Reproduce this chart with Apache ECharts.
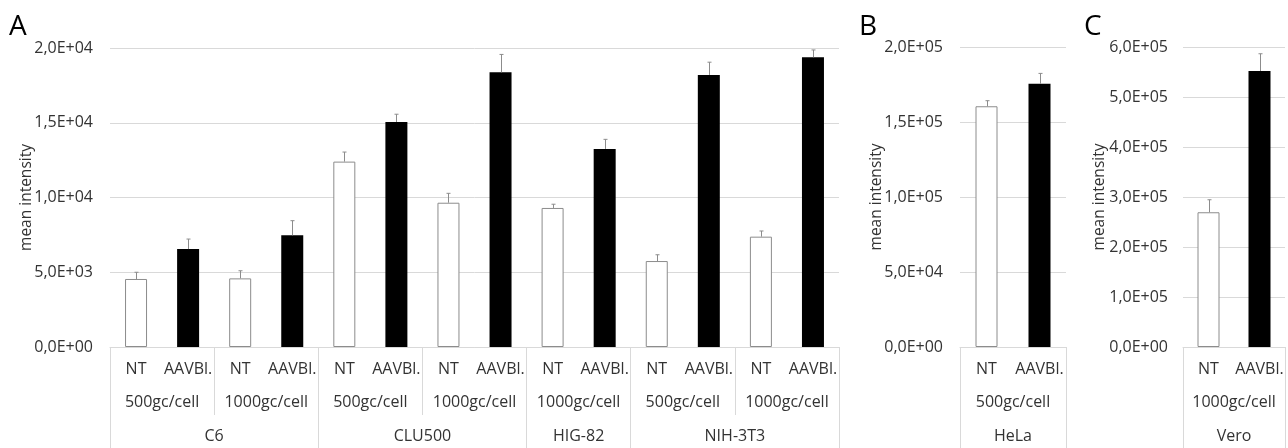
<!DOCTYPE html>
<html>
<head>
<meta charset="utf-8">
<script src="https://cdn.jsdelivr.net/npm/echarts@6/dist/echarts.min.js"></script>
<style>
  html, body { margin: 0; padding: 0; background: #fff; }
  #chart { width: 1288px; height: 448px; }
</style>
</head>
<body>
<div id="chart"></div>
<script>
// ---------- DATA ----------
const treatments = ['NT', 'AAVBl.'];

// Panel A
const dosesA = ['500gc/cell', '1000gc/cell', '500gc/cell', '1000gc/cell', '1000gc/cell', '500gc/cell', '1000gc/cell'];
const groupsA = ['C6', 'CLU500', 'HIG-82', 'NIH-3T3'];
const groupDoseCountA = [2, 2, 1, 2];
const valuesA = [4550, 6550, 4590, 7470, 12400, 15050, 9650, 18370, 9300, 13250, 5750, 18200, 7380, 19380];
const errorsA = [450, 670, 510, 980, 640, 520, 630, 1200, 250, 640, 420, 850, 380, 490];
const yTicksA = { max: 20000, interval: 5000 };

// Panel B
const dosesB = ['500gc/cell'];
const groupsB = ['HeLa'];
const groupDoseCountB = [1];
const valuesB = [160500, 175500];
const errorsB = [3700, 6900];
const yTicksB = { max: 200000, interval: 50000 };

// Panel C
const dosesC = ['1000gc/cell'];
const groupsC = ['Vero'];
const groupDoseCountC = [1];
const valuesC = [269500, 552000];
const errorsC = [25000, 34500];
const yTicksC = { max: 600000, interval: 100000 };

const panelLetters = ['A', 'B', 'C'];
const yAxisName = 'mean intensity';

// ---------- STYLE / LAYOUT ----------
const FONT = '"Open Sans", sans-serif';
const TXT = '#333333';
const GRID_COLOR = '#d9d9d9';
const layouts = [
  { left: 110, width: 729, top: 48, height: 299, nameGap: 75, labelMargin: 17, letterX: 9 },
  { left: 960, width: 106, top: 47, height: 300, nameGap: 75, labelMargin: 17, letterX: 859 },
  { left: 1183, width: 105, top: 47, height: 300, nameGap: 75, labelMargin: 15, letterX: 1084 }
];

function fmtSci(v) {
  if (v === 0) return '0,0E+00';
  const parts = v.toExponential(1).split('e');
  const ex = parseInt(parts[1], 10);
  const sign = ex < 0 ? '-' : '+';
  return parts[0].replace('.', ',') + 'E' + sign + String(Math.abs(ex)).padStart(2, '0');
}

const panels = [
  { doses: dosesA, groups: groupsA, counts: groupDoseCountA, values: valuesA, errors: errorsA, y: yTicksA },
  { doses: dosesB, groups: groupsB, counts: groupDoseCountB, values: valuesB, errors: errorsB, y: yTicksB },
  { doses: dosesC, groups: groupsC, counts: groupDoseCountC, values: valuesC, errors: errorsC, y: yTicksC }
];

const grid = [], xAxis = [], yAxis = [], series = [], graphic = [];

panels.forEach((p, g) => {
  const L = layouts[g];
  grid.push({ left: L.left, width: L.width, top: L.top, height: L.height, containLabel: false });

  // level 1: treatments per bar
  const level1 = [];
  p.doses.forEach(() => treatments.forEach(t => level1.push(t)));
  const n = level1.length;

  // level 3 slots: n+1 boundary points, group label at the centre point
  const slots = new Array(n + 1).fill('');
  const boundaries = new Set([0]);
  let pos = 0;
  p.groups.forEach((name, i) => {
    const span = p.counts[i] * treatments.length;
    slots[pos + span / 2] = name;
    pos += span;
    boundaries.add(pos);
  });

  const base = xAxis.length;
  const labelStyle = { color: TXT, fontFamily: FONT, fontSize: 16, interval: 0 };
  xAxis.push({
    gridIndex: g, type: 'category', data: level1, position: 'bottom',
    axisLine: { show: true, lineStyle: { color: GRID_COLOR, width: 1 } },
    axisTick: { show: false },
    axisLabel: Object.assign({ margin: 14 }, labelStyle),
    splitLine: { show: false }
  });
  xAxis.push({
    gridIndex: g, type: 'category', data: p.doses, position: 'bottom',
    axisLine: { show: false },
    axisTick: { show: true, length: 68, lineStyle: { color: GRID_COLOR, width: 1 } },
    axisLabel: Object.assign({ margin: 47 }, labelStyle),
    splitLine: { show: false }
  });
  xAxis.push({
    gridIndex: g, type: 'category', data: slots, boundaryGap: false, position: 'bottom',
    axisLine: { show: false },
    axisTick: { show: true, length: 110, interval: (i) => boundaries.has(i), lineStyle: { color: GRID_COLOR, width: 1 } },
    axisLabel: Object.assign({ margin: 81 }, labelStyle),
    splitLine: { show: false }
  });

  yAxis.push({
    gridIndex: g, type: 'value', min: 0, max: p.y.max, interval: p.y.interval,
    name: yAxisName, nameLocation: 'middle', nameGap: L.nameGap, nameMoveOverlap: false,
    nameTextStyle: { color: TXT, fontFamily: FONT, fontSize: 15.5 },
    axisLine: { show: false }, axisTick: { show: false },
    axisLabel: { color: TXT, fontFamily: FONT, fontSize: 16, margin: L.labelMargin, formatter: fmtSci },
    splitLine: { show: true, lineStyle: { color: GRID_COLOR, width: 1 } }
  });

  series.push({
    type: 'bar', xAxisIndex: base, yAxisIndex: g, barWidth: 22,
    data: p.values.map((v, i) => ({
      value: v,
      itemStyle: level1[i] === 'NT'
        ? { color: '#ffffff', borderColor: '#8c8c8c', borderWidth: 1 }
        : { color: '#000000', borderColor: '#000000', borderWidth: 0 }
    })),
    silent: true, animation: false
  });

  series.push({
    type: 'custom', xAxisIndex: base, yAxisIndex: g,
    data: p.values.map((v, i) => [i, v, p.errors[i]]),
    encode: { x: 0, y: 1 },
    renderItem: (params, api) => {
      const x = api.value(0), v = api.value(1), e = api.value(2);
      const p0 = api.coord([x, v]);
      const p1 = api.coord([x, v + e]);
      const cx = Math.round(p0[0]) + 0.5;
      return {
        type: 'group',
        children: [
          { type: 'line', shape: { x1: cx, y1: p0[1], x2: cx, y2: p1[1] }, style: { stroke: '#8c8c8c', lineWidth: 1 } },
          { type: 'line', shape: { x1: cx - 2, y1: p1[1], x2: cx + 2, y2: p1[1] }, style: { stroke: '#8c8c8c', lineWidth: 1 } }
        ]
      };
    },
    silent: true, animation: false, z: 3
  });

  graphic.push({
    type: 'text', left: L.letterX, top: 13,
    style: { text: panelLetters[g], fontFamily: FONT, fontSize: 28, fill: '#000' }
  });
});

const chart = echarts.init(document.getElementById('chart'), null, { renderer: 'canvas' });
chart.setOption({
  animation: false,
  backgroundColor: '#ffffff',
  grid, xAxis, yAxis, series, graphic
});
</script>
</body>
</html>
